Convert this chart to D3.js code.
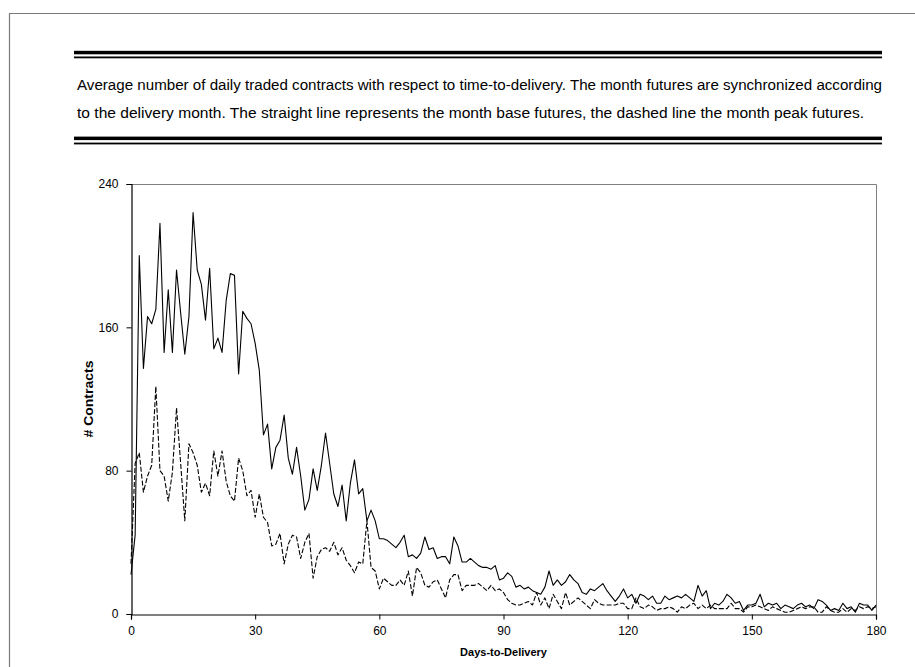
<!DOCTYPE html>
<html>
<head>
<meta charset="utf-8">
<script src="https://cdn.jsdelivr.net/npm/d3@7"></script>
<style>
  html, body { margin: 0; padding: 0; background: #fff; }
  svg { display: block; font-family: "Liberation Sans", Arial, sans-serif; }
</style>
</head>
<body>
<svg id="chart" width="915" height="667"></svg>
<script>
// Average daily traded contracts by days-to-delivery (0..180)
const days = d3.range(0, 181);

// Month base futures (solid line)
const baseContracts = [
  22, 44, 200, 137, 166, 162, 170, 218, 146, 181,
  146, 192, 168, 145, 166, 224, 192, 184, 164, 193,
  148, 154, 146, 175, 190, 189, 134, 169, 165, 162,
  151, 136, 100, 106, 81, 93, 97, 111, 87, 78,
  93, 77, 58, 64, 81, 69, 83, 101, 84, 67,
  60, 72, 52, 73, 86, 67, 70, 52, 58, 52,
  42, 42, 41, 39, 37, 40, 44, 32, 33, 31,
  34, 43, 36, 37, 31, 32, 32, 28, 43, 38,
  29, 29, 31, 29, 27, 26, 26, 25, 27, 19,
  20, 23, 21, 15, 16, 14, 15, 13, 12, 11,
  15, 24, 16, 19, 16, 18, 22, 19, 17, 12,
  11, 14, 13, 15, 17, 13, 10, 7, 10, 14,
  9, 11, 6, 11, 10, 8, 10, 6, 6, 10,
  8, 9, 10, 9, 11, 9, 7, 16, 10, 13,
  3, 6, 5, 7, 11, 9, 6, 7, 2, 5,
  5, 6, 11, 4, 6, 5, 6, 3, 5, 4,
  3, 5, 6, 4, 5, 3, 8, 7, 5, 2,
  3, 2, 6, 3, 4, 1, 6, 5, 5, 2,
  5
];

// Month peak futures (dashed line)
const peakContracts = [
  28, 84, 90, 68, 77, 83, 127, 80, 77, 63,
  79, 115, 84, 52, 95, 90, 83, 68, 73, 66,
  91, 77, 91, 74, 66, 63, 87, 80, 66, 69,
  54, 67, 54, 51, 38, 39, 45, 28, 39, 44,
  43, 31, 40, 45, 20, 32, 36, 37, 35, 40,
  33, 37, 30, 27, 23, 29, 28, 52, 26, 24,
  14, 20, 18, 16, 16, 19, 16, 24, 10, 26,
  23, 16, 15, 18, 19, 14, 9, 19, 22, 22,
  13, 16, 16, 16, 17, 15, 13, 16, 13, 14,
  12, 8, 6, 5, 5, 6, 7, 5, 12, 5,
  9, 3, 11, 7, 3, 12, 5, 7, 9, 7,
  5, 3, 8, 6, 5, 5, 5, 5, 6, 6,
  3, 3, 9, 4, 3, 5, 4, 2, 3, 3,
  4, 3, 1, 4, 3, 5, 6, 3, 5, 3,
  5, 3, 3, 3, 3, 6, 3, 3, 1, 4,
  4, 5, 4, 3, 2, 4, 3, 2, 1, 1,
  2, 3, 4, 3, 4, 4, 1, 1, 4, 2,
  1, 1, 3, 1, 3, 2, 4, 3, 4, 3,
  4
];

const xTicks = [0, 30, 60, 90, 120, 150, 180];
const yTicks = [0, 80, 160, 240];

const captionLines = [
  "Average number of daily traded contracts with respect to time-to-delivery. The month futures are synchronized according",
  "to the delivery month. The straight line represents the month base futures, the dashed line the month peak futures."
];
const captionWidths = [805, 787];

const svg = d3.select("#chart");

// Page frame
svg.append("path")
  .attr("d", "M9.5,667 V13.5 H915")
  .attr("fill", "none")
  .attr("stroke", "#7a7a7a")
  .attr("stroke-width", 1.2);

// Caption rules (thick + thin, above and below)
function doubleRule(yThick, yThin) {
  svg.append("rect").attr("x", 74).attr("y", yThick).attr("width", 808).attr("height", 3.5).attr("fill", "#000");
  svg.append("rect").attr("x", 74).attr("y", yThin).attr("width", 808).attr("height", 1.8).attr("fill", "#000");
}
doubleRule(50.8, 56.5);
doubleRule(136.6, 142.6);

// Caption text
svg.selectAll("text.caption")
  .data(captionLines)
  .join("text")
  .attr("class", "caption")
  .attr("x", 77)
  .attr("y", (d, i) => 90 + i * 27.5)
  .attr("font-size", 14)
  .attr("textLength", (d, i) => captionWidths[i])
  .attr("lengthAdjust", "spacingAndGlyphs")
  .attr("fill", "#000")
  .text(d => d);

// Plot area
const plotLeft = 131, plotRight = 876, plotTop = 184, plotBottom = 614;

const x = d3.scaleLinear().domain([0, 180]).range([plotLeft, plotRight]);
const y = d3.scaleLinear().domain([0, 240]).range([plotBottom, plotTop]);

// Plot border (top and right)
svg.append("path")
  .attr("d", `M${plotLeft},${plotTop + 0.5} H${plotRight + 0.5} V${plotBottom}`)
  .attr("fill", "none")
  .attr("stroke", "#808080")
  .attr("stroke-width", 1);

// Axes
const xAxis = d3.axisBottom(x).tickValues(xTicks).tickSize(5).tickPadding(7).tickFormat(d3.format("d"));
const yAxis = d3.axisLeft(y).tickValues(yTicks).tickSize(5).tickPadding(8).tickFormat(d3.format("d"));

const gx = svg.append("g").attr("transform", `translate(0,${plotBottom + 0.5})`).call(xAxis);
const gy = svg.append("g").attr("transform", `translate(${plotLeft + 0.5},0)`).call(yAxis);

[gx, gy].forEach(g => {
  g.select(".domain").attr("stroke", "#000").attr("stroke-width", 1.2);
  g.selectAll(".tick line").attr("stroke", "#000");
  g.selectAll(".tick text")
    .attr("font-family", "Liberation Sans, Arial, sans-serif")
    .attr("font-size", 12)
    .attr("fill", "#000");
});

// Series lines
const line = d3.line()
  .x((d, i) => x(days[i]))
  .y(d => y(d));

svg.append("path")
  .datum(baseContracts)
  .attr("d", line)
  .attr("fill", "none")
  .attr("stroke", "#000")
  .attr("stroke-width", 1.1)
  .attr("stroke-linejoin", "round");

svg.append("path")
  .datum(peakContracts)
  .attr("d", line)
  .attr("fill", "none")
  .attr("stroke", "#000")
  .attr("stroke-width", 1.1)
  .attr("stroke-dasharray", "5,2")
  .attr("stroke-linejoin", "round");

// Axis titles
svg.append("text")
  .attr("x", (plotLeft + plotRight) / 2)
  .attr("y", 656)
  .attr("text-anchor", "middle")
  .attr("font-size", 11)
  .attr("font-weight", "bold")
  .text("Days-to-Delivery");

svg.append("text")
  .attr("transform", `translate(93,${(plotTop + plotBottom) / 2}) rotate(-90)`)
  .attr("text-anchor", "middle")
  .attr("font-size", 12)
  .attr("font-weight", "bold")
  .attr("textLength", 77)
  .attr("lengthAdjust", "spacingAndGlyphs")
  .text("# Contracts");
</script>
</body>
</html>
